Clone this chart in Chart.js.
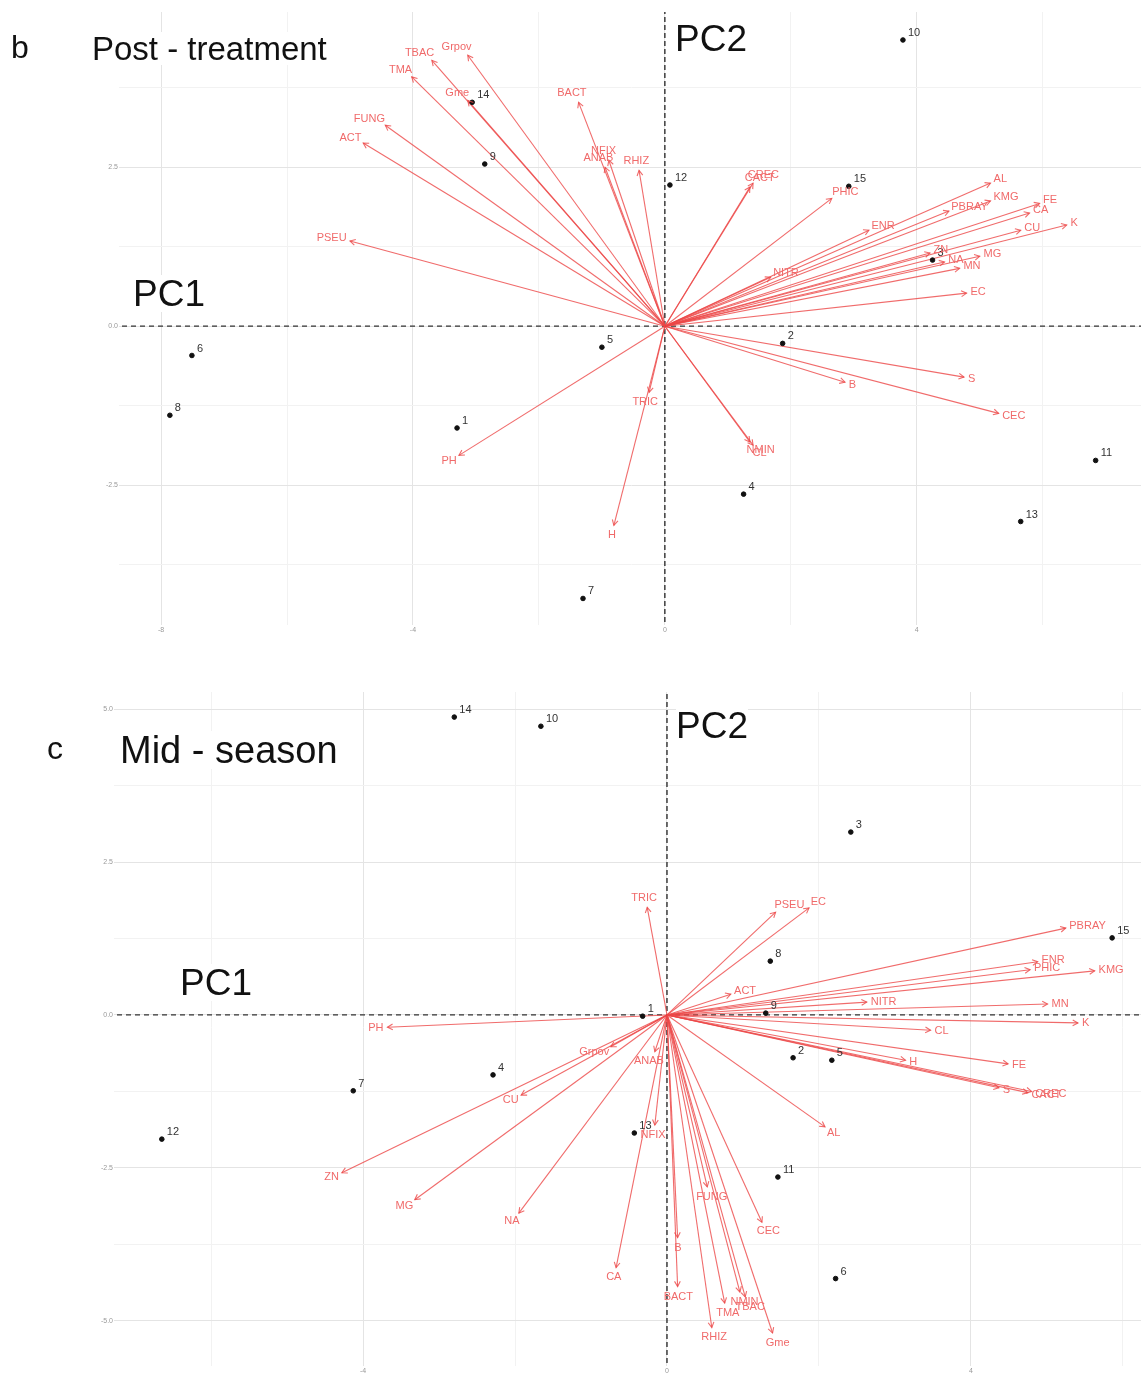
<!DOCTYPE html>
<html>
<head>
<meta charset="utf-8">
<script src="https://cdn.jsdelivr.net/npm/chart.js@4.4.1/dist/chart.umd.min.js"></script>
<style>
  body { margin: 0; background: #fff; width: 1141px; height: 1378px; position: relative; overflow: hidden; font-family: "Liberation Sans", Arial, sans-serif; }
  canvas { position: absolute; left: 0; }
  .lbl { position: absolute; line-height: 1; color: #111; background: #fff; white-space: nowrap; }
</style>
</head>
<body>
<canvas id="post" width="1146" height="650" style="top:0"></canvas>
<canvas id="mid" width="1146" height="718" style="top:660px"></canvas>

<div class="lbl" style="left:11px;top:31px;font-size:32px;background:none">b</div>
<div class="lbl" style="left:92px;top:32px;font-size:33px">Post - treatment</div>
<div class="lbl" style="left:675px;top:20px;font-size:37px">PC2</div>
<div class="lbl" style="left:133px;top:275px;font-size:37px">PC1</div>

<div class="lbl" style="left:47px;top:732px;font-size:32px;background:none">c</div>
<div class="lbl" style="left:120px;top:731px;font-size:38px">Mid - season</div>
<div class="lbl" style="left:676px;top:707px;font-size:37px">PC2</div>
<div class="lbl" style="left:180px;top:964px;font-size:37px">PC1</div>

<script>
// ---- b: post-treatment ----
var postSites = ['1','2','3','4','5','6','7','8','9','10','11','12','13','14','15']
var postSiteX = [-3.30, 1.87, 4.25, 1.25, -1.00, -7.51, -1.30, -7.86, -2.86, 3.78, 6.84, 0.08, 5.65, -3.06, 2.92]
var postSiteY = [-1.60, -0.27, 1.04, -2.64, -0.33, -0.46, -4.28, -1.40, 2.55, 4.50, -2.11, 2.22, -3.07, 3.52, 2.20]

var postVars = ['Grpov','TBAC','TMA','Gme','FUNG','ACT','PSEU','BACT','NFIX','ANAB','RHIZ','CREC','CACT','PHIC',
                'AL','KMG','FE','CA','CU','K','MG','ENR','PBRAY','ZN','NA','MN','EC','NITR','S','B','CEC','CL','NMIN','TRIC','H','PH']
var postVarX = [-3.13, -3.70, -4.02, -3.13, -4.44, -4.79, -5.00, -1.37, -0.89, -0.95, -0.41, 1.40, 1.35, 2.65,
                5.17, 5.17, 5.95, 5.79, 5.65, 6.38, 5.00, 3.24, 4.51, 4.21, 4.44, 4.68, 4.79, 1.68, 4.75, 2.86, 5.30, 1.40, 1.35, -0.25, -0.81, -3.27]
var postVarY = [4.26, 4.18, 3.92, 3.55, 3.16, 2.88, 1.34, 3.52, 2.61, 2.50, 2.45, 2.25, 2.19, 2.01,
                2.25, 1.97, 1.93, 1.78, 1.51, 1.59, 1.10, 1.51, 1.81, 1.15, 1.01, 0.91, 0.52, 0.77, -0.80, -0.88, -1.37, -1.87, -1.82, -1.04, -3.13, -2.03]

var postXTicks = [-8, -4, 0, 4]
var postYTicks = [-2.5, 0, 2.5]

// ---- c: mid-season ----
var midSites = ['1','2','3','4','5','6','7','8','9','10','11','12','13','14','15']
var midSiteX = [-0.32, 1.66, 2.42, -2.29, 2.17, 2.22, -4.13, 1.36, 1.30, -1.66, 1.46, -6.65, -0.43, -2.80, 5.86]
var midSiteY = [-0.02, -0.70, 2.99, -0.98, -0.74, -4.31, -1.24, 0.88, 0.03, 4.72, -2.65, -2.03, -1.93, 4.87, 1.26]

var midVars = ['TRIC','PSEU','EC','PBRAY','ENR','PHIC','KMG','ACT','NITR','MN','K','CL','FE','H','S','CREC','CACT','AL',
               'FUNG','CEC','B','BACT','NMIN','TBAC','TMA','RHIZ','Gme','CA','ANAB','NFIX','PH','Grpov','CU','ZN','MG','NA']
var midVarX = [-0.26, 1.43, 1.87, 5.25, 4.88, 4.78, 5.63, 0.84, 2.63, 5.01, 5.41, 3.47, 4.49, 3.14, 4.37, 4.80, 4.75, 2.08,
               0.53, 1.25, 0.14, 0.14, 0.96, 1.03, 0.76, 0.59, 1.39, -0.67, -0.16, -0.16, -3.68, -0.74, -1.92, -4.28, -3.32, -1.95]
var midVarY = [1.76, 1.68, 1.75, 1.42, 0.87, 0.74, 0.72, 0.34, 0.21, 0.18, -0.13, -0.25, -0.80, -0.74, -1.19, -1.25, -1.27, -1.83,
               -2.81, -3.39, -3.64, -4.44, -4.53, -4.61, -4.71, -5.11, -5.20, -4.13, -0.60, -1.80, -0.20, -0.52, -1.31, -2.58, -3.02, -3.24]

var midXTicks = [-4, 0, 4]
var midYTicks = [-5, -2.5, 0, 2.5, 5]

var arrowColor = 'rgba(236, 70, 70, 0.8)'
var arrowText = '#f06a6a'

var arrowPlugin = {
    id: 'arrowHeads',
    afterDatasetsDraw(chart) {
        var ctx = chart.ctx
        ctx.save()
        chart.data.datasets.forEach((ds, i) => {
            var meta = chart.getDatasetMeta(i)
            if (ds.kind === 'arrow') {
                var p0 = meta.data[0], p1 = meta.data[1]
                var ang = Math.atan2(p1.y - p0.y, p1.x - p0.x)
                var h = 6
                ctx.strokeStyle = arrowColor
                ctx.lineWidth = 1.1
                ctx.beginPath()
                ctx.moveTo(p1.x - h * Math.cos(ang - 0.5), p1.y - h * Math.sin(ang - 0.5))
                ctx.lineTo(p1.x, p1.y)
                ctx.lineTo(p1.x - h * Math.cos(ang + 0.5), p1.y - h * Math.sin(ang + 0.5))
                ctx.stroke()
                ctx.font = '11px "Liberation Sans", Arial, sans-serif'
                ctx.fillStyle = arrowText
                ctx.textAlign = 'center'
                ctx.textBaseline = 'middle'
                var w = ctx.measureText(ds.label).width
                ctx.fillText(ds.label, p1.x + Math.cos(ang) * (w / 2 + 4), p1.y + Math.sin(ang) * 10)
            } else if (ds.kind === 'sites') {
                ctx.font = '11px "Liberation Sans", Arial, sans-serif'
                ctx.fillStyle = '#333'
                ctx.textAlign = 'left'
                ctx.textBaseline = 'middle'
                meta.data.forEach((pt, j) => {
                    ctx.fillText(ds.names[j], pt.x + 5, pt.y - 7)
                })
            }
        })
        ctx.restore()
    }
}

function isMajor(v, list) {
    return list.some(t => Math.abs(t - v) < 1e-6)
}

function makeChart(id, sites, sx, sy, vars, vx, vy, xr, yr, xTicks, yTicks, pad, xh) {
    var datasets = []
    datasets.push({
        kind: 'sites',
        type: 'scatter',
        names: sites,
        data: sites.map((s, i) => ({ x: sx[i], y: sy[i] })),
        backgroundColor: '#111',
        borderColor: '#111',
        pointRadius: 2.3
    })
    vars.forEach((v, i) => {
        datasets.push({
            kind: 'arrow',
            type: 'line',
            label: v,
            data: [{ x: 0, y: 0 }, { x: vx[i], y: vy[i] }],
            borderColor: arrowColor,
            borderWidth: 1.1,
            pointRadius: 0,
            fill: false
        })
    })
    // dashed reference lines through the origin
    datasets.push({
        type: 'line', data: [{ x: xr[0], y: 0 }, { x: xr[1], y: 0 }],
        borderColor: '#333', borderWidth: 1.2, borderDash: [5, 4], pointRadius: 0
    })
    datasets.push({
        type: 'line', data: [{ x: 0, y: yr[0] }, { x: 0, y: yr[1] }],
        borderColor: '#111', borderWidth: 1.2, borderDash: [5, 3], pointRadius: 0
    })

    return new Chart(document.getElementById(id).getContext('2d'), {
        type: 'scatter',
        data: { datasets: datasets },
        options: {
            responsive: false,
            animation: false,
            layout: { padding: pad },
            plugins: { legend: { display: false }, tooltip: { enabled: false } },
            scales: {
                x: {
                    type: 'linear', min: xr[0], max: xr[1],
                    afterFit: s => { s.height = xh },
                    border: { display: false },
                    grid: {
                        color: c => isMajor(c.tick.value, xTicks) ? '#e4e4e4' : '#f2f2f2',
                        tickLength: 3, lineWidth: 1
                    },
                    ticks: {
                        stepSize: 2, includeBounds: false, autoSkip: false, maxRotation: 0,
                        color: '#999', font: { size: 7 }, padding: 1,
                        callback: v => isMajor(v, xTicks) ? String(v) : ''
                    }
                },
                y: {
                    type: 'linear', min: yr[0], max: yr[1],
                    afterFit: s => { s.width = 30 },
                    border: { display: false },
                    grid: {
                        color: c => isMajor(c.tick.value, yTicks) ? '#e4e4e4' : '#f2f2f2',
                        tickLength: 3, lineWidth: 1
                    },
                    ticks: {
                        stepSize: 1.25, includeBounds: false, autoSkip: false,
                        color: '#999', font: { size: 7 }, padding: 1,
                        callback: v => isMajor(v, yTicks) ? v.toFixed(1) : ''
                    }
                }
            }
        },
        plugins: [arrowPlugin]
    })
}

window.onload = () => {
    makeChart('post', postSites, postSiteX, postSiteY, postVars, postVarX, postVarY,
        [-8.62, 7.56], [-4.65, 4.94], postXTicks, postYTicks,
        { left: 92, right: 0, top: 12, bottom: 8 }, 20)
    makeChart('mid', midSites, midSiteX, midSiteY, midVars, midVarX, midVarY,
        [-7.24, 6.24], [-5.69, 5.28], midXTicks, midYTicks,
        { left: 87, right: 0, top: 32, bottom: 0 }, 15)
}
</script>
</body>
</html>
